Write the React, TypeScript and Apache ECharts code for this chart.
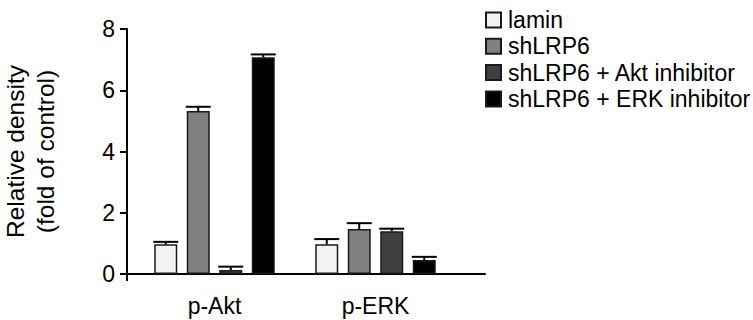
import React, { useEffect, useRef } from "react";
import * as echarts from "echarts";

const categories = ["p-Akt", "p-ERK"];
const seriesNames = ["lamin", "shLRP6", "shLRP6 + Akt inhibitor", "shLRP6 + ERK inhibitor"];
const colors = ["#f2f2f2", "#808080", "#404040", "#000000"];
const means = [
  [0.97, 0.97],
  [5.32, 1.47],
  [0.13, 1.4],
  [7.08, 0.46],
];
const errors = [
  [0.08, 0.17],
  [0.14, 0.19],
  [0.11, 0.08],
  [0.09, 0.1],
];
const yTicks = { min: 0, max: 8, interval: 2 };

const FONT = "'Liberation Sans', Arial, Helvetica, sans-serif";
const FS = 23;
const BAR_W = 23;
const BAR_GAP = 9.5;

export default function App() {
  const ref = useRef<HTMLDivElement>(null);
  useEffect(() => {
    document.body.style.margin = "0";
    if (!ref.current) return;
    const chart = echarts.init(ref.current, null, { renderer: "svg" });
    const pitch = BAR_W + BAR_GAP;
    const bars = seriesNames.map((name, i) => ({
      name,
      type: "bar",
      xAxisIndex: 1,
      yAxisIndex: 1,
      barWidth: BAR_W,
      barGap: `${(BAR_GAP / BAR_W) * 100}%`,
      data: means[i],
      itemStyle: { color: colors[i], borderColor: "#1a1a1a", borderWidth: 1.5 },
      z: 2,
    }));
    const errs = seriesNames.map((name, i) => ({
      name: name + " err",
      type: "custom",
      xAxisIndex: 1,
      yAxisIndex: 1,
      z: 3,
      data: means[i].map((m, c) => [c, m, errors[i][c]]),
      renderItem: (params: any, api: any) => {
        const c = api.value(0);
        const v = api.value(1);
        const e = api.value(2);
        const top = api.coord([c, v]);
        const cap = api.coord([c, v + e]);
        const x = top[0] + (i - 1.5) * pitch;
        const half = BAR_W / 2 + 1;
        return {
          type: "group",
          children: [
            { type: "line", shape: { x1: x, y1: top[1], x2: x, y2: cap[1] }, style: { stroke: "#000", lineWidth: 2 } },
            { type: "line", shape: { x1: x - half, y1: cap[1], x2: x + half, y2: cap[1] }, style: { stroke: "#000", lineWidth: 2 } },
          ],
        };
      },
    }));
    chart.setOption({
      animation: false,
      textStyle: { fontFamily: FONT },
      grid: [
        { left: 127, width: 358, top: 29, height: 245, outerBoundsMode: "none", containLabel: false },
        { left: 134, width: 322, top: 29, height: 245, outerBoundsMode: "none", containLabel: false },
      ],
      legend: {
        orient: "vertical",
        left: 485,
        top: 7,
        padding: 0,
        itemWidth: 15,
        itemHeight: 15,
        itemGap: 0.3,
        icon: "rect",
        data: seriesNames,
        textStyle: { fontSize: FS, color: "#000", fontFamily: FONT, lineHeight: 26, padding: [0, 0, 0, 2] },
      },
      xAxis: [
        {
          type: "value",
          gridIndex: 0,
          min: 0,
          max: 1,
          axisLine: { show: true, onZero: false, lineStyle: { color: "#000", width: 2 } },
          axisTick: { show: true, customValues: [0], length: 7, lineStyle: { color: "#000", width: 2 } },
          axisLabel: { show: false },
          splitLine: { show: false },
        },
        {
          type: "category",
          gridIndex: 1,
          data: categories,
          axisLine: { show: false },
          axisTick: { show: false },
          axisLabel: { fontSize: FS, color: "#000", margin: 20, fontFamily: FONT },
          splitLine: { show: false },
        },
      ],
      yAxis: [
        {
          type: "value",
          gridIndex: 0,
          min: yTicks.min,
          max: yTicks.max,
          interval: yTicks.interval,
          name: "Relative density\n(fold of control)",
          nameLocation: "middle",
          nameRotate: 90,
          nameGap: 67,
          nameTextStyle: { fontSize: 24.5, color: "#000", lineHeight: 30, fontFamily: FONT },
          axisLine: { show: true, lineStyle: { color: "#000", width: 2 } },
          axisTick: { show: true, length: 7, lineStyle: { color: "#000", width: 2 } },
          axisLabel: { fontSize: FS, color: "#000", margin: 12, fontFamily: FONT },
          splitLine: { show: false },
        },
        {
          type: "value",
          gridIndex: 1,
          min: yTicks.min,
          max: yTicks.max,
          interval: yTicks.interval,
          show: false,
          splitLine: { show: false },
        },
      ],
      series: [...bars, ...errs],
    });
    return () => chart.dispose();
  }, []);
  return <div ref={ref} style={{ width: 753, height: 320 }} />;
}
